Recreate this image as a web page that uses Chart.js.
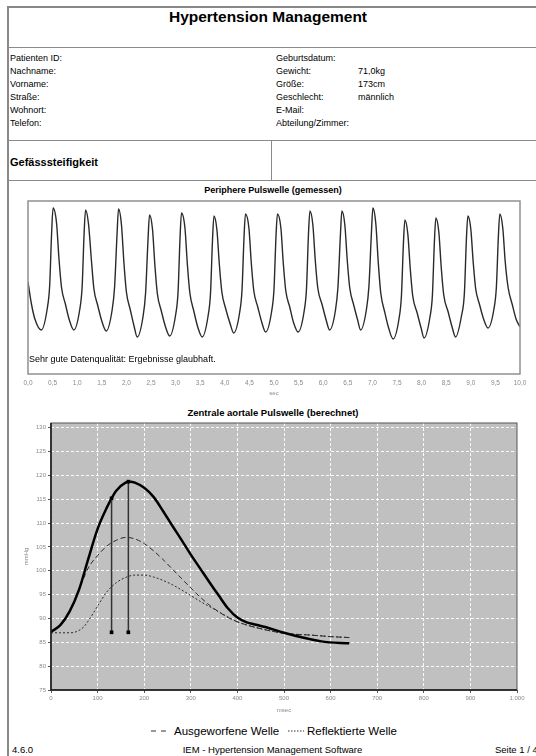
<!DOCTYPE html>
<html>
<head>
<meta charset="utf-8">
<script src="https://cdn.jsdelivr.net/npm/chart.js@4.4.1/dist/chart.umd.min.js"></script>
<style>
  body { margin: 0; width: 536px; height: 756px; overflow: hidden; background: #fff;
         font-family: Arial, "Liberation Sans", sans-serif; color: #000; position: relative; }
  .abs { position: absolute; white-space: nowrap; }
  .hline { position: absolute; left: 8px; width: 600px; height: 0; border-top: 1.5px solid #8a8a8a; }
  .info { position: absolute; font-size: 9px; line-height: 11px; white-space: nowrap; }
  canvas { position: absolute; left: 0; }
</style>
</head>
<body>
<!-- page frame -->
<div class="abs" style="left:7px;top:6px;width:600px;height:748px;border:2px solid #888;"></div>
<div class="abs" style="left:0;top:7px;width:536px;text-align:center;font-weight:bold;font-size:15.5px;line-height:19px;">Hypertension Management</div>
<div class="hline" style="top:47px"></div>

<!-- patient data -->
<div class="info" style="left:10px;top:52px;line-height:13px">Patienten ID:<br>Nachname:<br>Vorname:<br>Straße:<br>Wohnort:<br>Telefon:</div>
<div class="info" style="left:276px;top:52px;line-height:13px">Geburtsdatum:<br>Gewicht:<br>Größe:<br>Geschlecht:<br>E-Mail:<br>Abteilung/Zimmer:</div>
<div class="info" style="left:358px;top:52px;line-height:13px">&nbsp;<br>71,0kg<br>173cm<br>männlich</div>

<div class="hline" style="top:140px"></div>
<div class="abs" style="left:271px;top:140px;width:0;height:40px;border-left:1.5px solid #8a8a8a;"></div>
<div class="abs" style="left:10px;top:155px;font-weight:bold;font-size:11px;line-height:14px;">Gefässsteifigkeit</div>
<div class="hline" style="top:180px"></div>

<!-- peripheral pulse wave -->
<div class="abs" style="left:0;top:184px;width:546px;text-align:center;font-weight:bold;font-size:9px;line-height:12px;">Periphere Pulswelle (gemessen)</div>
<canvas id="pulseChart" width="536" height="210" style="top:195px"></canvas>
<div class="abs" style="left:29px;top:353px;font-size:9px;line-height:12px;">Sehr gute Datenqualität: Ergebnisse glaubhaft.</div>

<!-- central aortic pulse wave -->
<div class="abs" style="left:0;top:407px;width:546px;text-align:center;font-weight:bold;font-size:9.5px;line-height:12px;">Zentrale aortale Pulswelle (berechnet)</div>
<canvas id="aortaChart" width="536" height="315" style="top:405px"></canvas>

<!-- legend -->
<svg class="abs" style="left:151px;top:729px" width="16" height="4"><line x1="0" y1="2" x2="16" y2="2" stroke="#333" stroke-width="1.2" stroke-dasharray="5,5"/></svg>
<div class="abs" style="left:174px;top:724px;font-size:11.5px;line-height:14px;">Ausgeworfene Welle</div>
<svg class="abs" style="left:288px;top:729px" width="16" height="4"><line x1="0" y1="2" x2="16" y2="2" stroke="#333" stroke-width="1.2" stroke-dasharray="1.5,1.5"/></svg>
<div class="abs" style="left:307px;top:724px;font-size:11.5px;line-height:14px;">Reflektierte Welle</div>

<!-- footer -->
<div class="abs" style="left:12px;top:744px;font-size:9.5px;line-height:12px;">4.6.0</div>
<div class="abs" style="left:0;top:744px;width:545px;text-align:center;font-size:9.5px;line-height:12px;">IEM - Hypertension Management Software</div>
<div class="abs" style="left:495px;top:744px;font-size:9.5px;line-height:12px;">Seite 1 / 4</div>

<script>
// Peripheral pulse wave (measured), time in seconds, amplitude in arbitrary units
const pulseSec = [
  0.00, 0.07, 0.14,
  0.27, 0.39, 0.44, 0.48, 0.51, 0.58, 0.63, 0.68, 0.76, 0.84,
  0.93, 1.05, 1.10, 1.14, 1.17, 1.23, 1.29, 1.34, 1.42, 1.50,
  1.59, 1.71, 1.76, 1.81, 1.84, 1.90, 1.95, 2.00, 2.08, 2.16,
  2.22, 2.34, 2.39, 2.44, 2.47, 2.53, 2.58, 2.63, 2.71, 2.79,
  2.88, 3.00, 3.05, 3.09, 3.12, 3.19, 3.24, 3.29, 3.37, 3.45,
  3.54, 3.66, 3.71, 3.75, 3.78, 3.84, 3.89, 3.94, 4.02, 4.11,
  4.18, 4.30, 4.35, 4.39, 4.42, 4.49, 4.54, 4.59, 4.67, 4.75,
  4.83, 4.95, 5.00, 5.04, 5.07, 5.14, 5.19, 5.24, 5.32, 5.40,
  5.49, 5.61, 5.66, 5.70, 5.73, 5.79, 5.84, 5.89, 5.98, 6.06,
  6.13, 6.25, 6.30, 6.35, 6.38, 6.44, 6.49, 6.54, 6.62, 6.70,
  6.76, 6.88, 6.93, 6.98, 7.01, 7.07, 7.12, 7.17, 7.25, 7.33,
  7.42, 7.54, 7.59, 7.63, 7.66, 7.72, 7.77, 7.82, 7.91, 7.99,
  8.05, 8.17, 8.22, 8.26, 8.29, 8.35, 8.40, 8.45, 8.54, 8.62,
  8.69, 8.81, 8.87, 8.91, 8.94, 9.00, 9.05, 9.10, 9.18, 9.26,
  9.35, 9.47, 9.52, 9.56, 9.59, 9.65, 9.70, 9.76, 9.84, 9.92, 10.00
];
const pulseAmp = [
  92, 70, 55,
  44, 65, 88, 141, 166, 151, 115, 87, 70, 54,
  44, 64, 87, 140, 164, 150, 113, 85, 68, 53,
  43, 64, 87, 140, 165, 149, 111, 82, 64, 47,
  37, 58, 81, 135, 159, 145, 108, 80, 63, 48,
  38, 59, 82, 136, 161, 146, 109, 81, 63, 47,
  37, 58, 81, 134, 158, 144, 109, 82, 65, 50,
  41, 61, 84, 136, 160, 146, 110, 83, 67, 52,
  42, 62, 85, 137, 160, 146, 110, 83, 67, 51,
  42, 62, 85, 139, 163, 149, 113, 86, 69, 54,
  44, 64, 87, 139, 163, 149, 113, 86, 69, 54,
  44, 65, 88, 141, 166, 150, 111, 81, 62, 46,
  35, 55, 78, 130, 154, 140, 105, 78, 61, 46,
  36, 57, 79, 132, 156, 142, 106, 79, 62, 47,
  37, 58, 81, 134, 158, 145, 111, 85, 69, 55,
  46, 65, 87, 137, 160, 146, 112, 86, 70, 55, 47
];

// Central aortic pulse wave (calculated), msec / mmHg
const aortaMs   = [0, 20, 40, 60, 80, 100, 120, 130, 140, 160, 170, 180, 200, 220, 240, 260, 280, 300, 320, 340, 360, 380, 400, 420, 440, 460, 500, 540, 580, 620, 640];
const aortaMmHg = [87.2, 88.6, 91.5, 96.0, 102.5, 108.8, 113.3, 115.2, 116.8, 118.5, 118.7, 118.5, 117.4, 115.5, 112.6, 109.5, 106.5, 103.4, 100.5, 97.6, 94.8, 92.1, 90.2, 89.2, 88.7, 88.2, 87.0, 86.0, 85.2, 84.85, 84.8];

const ejectMs   = [0, 20, 40, 60, 80, 100, 120, 140, 160, 180, 200, 220, 240, 260, 280, 300, 320, 340, 360, 380, 400, 440, 500, 560, 600, 640];
const ejectMmHg = [87.2, 88.6, 91.5, 96.0, 100.6, 103.2, 105.2, 106.4, 107.0, 106.7, 105.7, 104.2, 102.4, 100.4, 98.4, 96.4, 94.5, 92.8, 91.4, 90.2, 89.3, 88.1, 86.9, 86.5, 86.2, 86.0];

const reflMs   = [0, 20, 40, 50, 60, 70, 80, 90, 100, 120, 140, 160, 180, 200, 220, 240, 260, 280, 300, 320, 340, 360, 380, 400, 440, 500, 560, 600, 640];
const reflMmHg = [87.0, 87.0, 87.0, 87.1, 87.5, 88.2, 89.5, 91.0, 92.6, 95.6, 97.5, 98.6, 99.1, 99.1, 98.7, 98.0, 97.1, 96.0, 94.8, 93.6, 92.5, 91.4, 90.3, 89.3, 88.1, 86.9, 86.5, 86.2, 86.0];

// vertical markers (inflection point and systolic peak)
const markerMs   = [130, 166];
const markerTop  = [115.2, 118.7];
const markerBase = [87.1, 87.1];

function toPoints(xs, ys) {
  return xs.map((x, i) => ({ x: x, y: ys[i] }));
}

const tickGray = '#8a8a8a';

// draws a frame round the plot area
const framePlugin = {
  id: 'frame',
  beforeDraw(chart, args, opts) {
    if (!opts.fill) return;
    const a = chart.chartArea;
    chart.ctx.save();
    chart.ctx.fillStyle = opts.fill;
    chart.ctx.fillRect(a.left, a.top, a.right - a.left, a.bottom - a.top);
    chart.ctx.restore();
  },
  afterDatasetsDraw(chart, args, opts) {
    const a = chart.chartArea;
    const ctx = chart.ctx;
    ctx.save();
    ctx.strokeStyle = opts.color;
    ctx.lineWidth = opts.width;
    ctx.strokeRect(a.left, a.top, a.right - a.left, a.bottom - a.top);
    if (opts.axisColor) {
      ctx.strokeStyle = opts.axisColor;
      ctx.lineWidth = 1.5;
      ctx.beginPath();
      ctx.moveTo(a.left, a.top);
      ctx.lineTo(a.left, a.bottom);
      ctx.lineTo(a.right, a.bottom);
      ctx.stroke();
    }
    ctx.restore();
  }
};

// Peripheral pulse chart
new Chart(document.getElementById('pulseChart'), {
  type: 'scatter',
  data: {
    datasets: [{
      data: toPoints(pulseSec, pulseAmp),
      showLine: true,
      borderColor: '#2a2a2a',
      borderWidth: 1.4,
      pointRadius: 0,
      cubicInterpolationMode: 'monotone'
    }]
  },
  options: {
    responsive: false,
    animation: false,
    devicePixelRatio: 1,
    layout: { padding: { left: 28, right: 16, top: 6, bottom: 0 } },
    plugins: {
      legend: { display: false },
      tooltip: { enabled: false },
      frame: { color: '#909090', width: 1.5 }
    },
    scales: {
      x: {
        type: 'linear', min: 0, max: 10,
        afterFit: (axis) => { axis.height = 31; },
        grid: { display: false, drawTicks: false },
        border: { display: false },
        ticks: {
          stepSize: 0.5, padding: 5, color: tickGray, maxRotation: 0,
          font: { size: 6.5 },
          callback: (v) => v.toFixed(1).replace('.', ',')
        },
        title: { display: true, text: 'sec', color: tickGray, font: { size: 6 }, padding: { bottom: 8 } }
      },
      y: { display: false, min: 0, max: 173 }
    }
  },
  plugins: [framePlugin]
});

// Central aortic pulse chart
const markerSets = markerMs.map((ms, i) => ({
  data: [{ x: ms, y: markerTop[i] }, { x: ms, y: markerBase[i] }],
  showLine: true,
  borderColor: '#333',
  borderWidth: 1.5,
  pointStyle: 'rect',
  pointRadius: 2.6,
  pointBackgroundColor: '#000',
  pointBorderColor: '#000',
  pointBorderWidth: 0
}));

new Chart(document.getElementById('aortaChart'), {
  type: 'scatter',
  data: {
    datasets: [
      ...markerSets,
      {
        label: 'Aortendruck',
        data: toPoints(aortaMs, aortaMmHg),
        showLine: true, borderColor: '#000', borderWidth: 2.5, pointRadius: 0,
        cubicInterpolationMode: 'monotone'
      },
      {
        label: 'Ausgeworfene Welle',
        data: toPoints(ejectMs, ejectMmHg),
        showLine: true, borderColor: '#2a2a2a', borderWidth: 1, borderDash: [5, 3], pointRadius: 0,
        cubicInterpolationMode: 'monotone'
      },
      {
        label: 'Reflektierte Welle',
        data: toPoints(reflMs, reflMmHg),
        showLine: true, borderColor: '#2a2a2a', borderWidth: 1, borderDash: [2, 2], pointRadius: 0,
        cubicInterpolationMode: 'monotone'
      }
    ]
  },
  options: {
    responsive: false,
    animation: false,
    devicePixelRatio: 1,
    layout: { padding: { left: 0, right: 19, top: 18, bottom: 0 } },
    plugins: {
      legend: { display: false },
      tooltip: { enabled: false },
      frame: { color: '#555', width: 1, fill: '#c0c0c0', axisColor: '#111' }
    },
    scales: {
      x: {
        type: 'linear', min: 0, max: 1000,
        afterFit: (axis) => { axis.height = 30; },
        grid: { color: 'rgba(255,255,255,0.95)', lineWidth: 1, tickLength: 3, tickColor: '#555', tickBorderDash: [] },
        border: { display: false, dash: [3, 2] },
        ticks: {
          stepSize: 100, padding: 2, color: tickGray, maxRotation: 0,
          font: { size: 6 },
          callback: (v) => (v === 1000 ? '1.000' : String(v))
        },
        title: { display: true, text: 'msec', color: tickGray, font: { size: 6 }, padding: { bottom: 6 } }
      },
      y: {
        min: 75, max: 131,
        afterFit: (axis) => { axis.width = 51; },
        grid: { color: 'rgba(255,255,255,0.95)', lineWidth: 1, tickLength: 3, tickColor: '#555', tickBorderDash: [] },
        border: { display: false, dash: [3, 2] },
        ticks: { stepSize: 5, includeBounds: false, padding: 2, color: tickGray, font: { size: 6 } },
        title: { display: true, text: 'mmHg', color: tickGray, font: { size: 6 }, padding: { top: 23 } }
      }
    }
  },
  plugins: [framePlugin]
});
</script>
</body>
</html>
